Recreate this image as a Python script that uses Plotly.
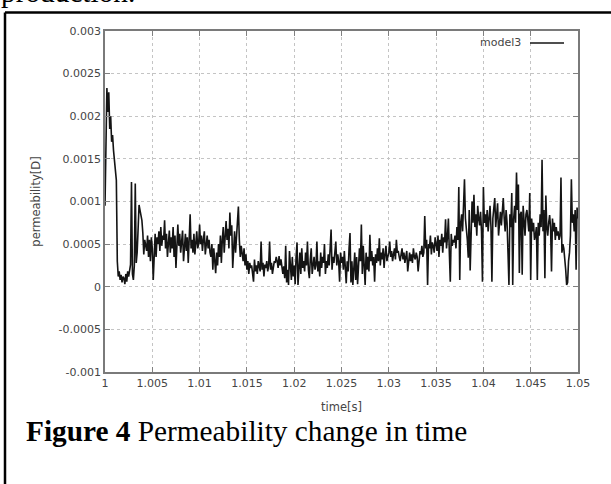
import plotly.graph_objects as go

# ---------------- data (permeability in units of 1e-5 D, sampled every 0.0001 s from t=1.0) ----------------
t_start = 1.0
t_step = 0.0001

perm_early = [
    95, 175, 233, 205, 228, 185, 200, 170, 178, 160,
    150, 140, 125, 30, 12, 18, 8, 14, 5, 12,
    10, 3, 15, 6, 18, 12, 20, 26, 123, 15,
    8, 25, 121, 28, 40, 65, 96, 90, 84, 78,
    63, 38, 55, 48, 42, 60, 35, 55, 30, 58,
    45, 8, 40, 62, 35, 58, 50, 65, 42, 70,
    48, 60, 55, 78, 45, 62, 35, 55, 66, 40,
    58, 45, 70, 35, 60, 22, 50, 73, 48, 62,
    40, 55, 66, 30, 50, 62, 42, 58, 28, 60,
    85, 45, 55, 40, 62, 38, 58, 65, 45, 50,
    73, 50, 60, 42, 55, 65, 38, 52, 60, 45,
    55, 40, 35, 50, 20, 45, 30, 16, 40, 25,
    50, 35, 60, 28, 55, 70, 40, 62, 77, 55,
    68, 45, 87, 60, 72, 22, 50, 65, 40, 58,
    70, 94, 55, 35, 48, 40, 30, 45, 25, 38,
]
perm_mid = [
    20, 30, 15, 28, 22, 25, 10, 6, 32, 18,
    25, 15, 30, 22, 18, 53, 20, 28, 12, 26,
    22, 30, 18, 25, 53, 20, 28, 15, 25, 30,
    28, 35, 30, 22, 36, 25, 32, 20, 15, 24,
    10, 48, 5, 20, 2, 42, 18, 8, 35, 12,
    25, 3, 35, 52, 2, 30, 40, 15, 45, 22,
    30, 18, 40, 25, 53, 20, 10, 32, 45, 15,
    28, 35, 20, 25, 53, 18, 30, 12, 40, 22,
    35, 28, 50, 15, 30, 22, 38, 25, 45, 67,
    20, 35, 28, 45, 53, 25, 38, 30, 6, 40,
    28, 35, 20, 42, 25, 4, 30, 18, 45, 63,
    5, 30, 2, 25, 40, 8, 35, 3, 22, 45,
    30, 73, 15, 48, 25, 2, 40, 20, 35, 18,
    61, 30, 42, 25, 35, 6, 38, 28, 45, 30,
    57, 25, 40, 32, 45, 22, 38, 48, 30, 35,
]
perm_late = [
    40, 53, 35, 42, 30, 38, 45, 32, 55, 40,
    42, 35, 30, 38, 45, 32, 40, 28, 36, 42,
    18, 35, 40, 30, 38, 28, 45, 35, 32, 40,
    35, 18, 30, 42, 38, 48, 35, 40, 83, 45,
    55, 2, 50, 45, 60, 38, 52, 48, 40, 58,
    50, 42, 60, 35, 55, 48, 62, 40, 58, 52,
    79, 45, 58, 80, 40, 6, 62, 48, 55, 52,
    60, 45, 70, 55, 117, 8, 75, 85, 65, 90,
    126, 80, 70, 55, 34, 90, 19, 85, 100, 75,
    108, 70, 85, 60, 95, 80, 72, 88, 65, 6,
    117, 75, 85, 70, 90, 65, 80, 95, 70, 6,
    80, 90, 104, 70, 85, 98, 60, 75, 88, 72,
    95, 104, 80, 65, 90, 75, 40, 2, 85, 70,
    110, 2, 80, 95, 75, 134, 90, 120, 16, 85,
    88, 14, 95, 70, 60, 85, 90, 78, 65, 110,
    8, 80, 65, 75, 55, 60, 70, 8, 75, 60,
    85, 70, 149, 65, 90, 10, 107, 70, 60, 75,
    84, 70, 18, 80, 65, 75, 55, 70, 60, 65,
    55, 60, 128, 40, 50, 45, 35, 20, 2, 5,
    30, 40, 60, 126, 75, 85, 65, 90, 20, 93,
    80,
]

x_tick_vals = [1.0, 1.005, 1.01, 1.015, 1.02, 1.025, 1.03, 1.035, 1.04, 1.045, 1.05]
x_tick_text = ["1", "1.005", "1.01", "1.015", "1.02", "1.025", "1.03", "1.035", "1.04", "1.045", "1.05"]
y_tick_vals = [-0.001, -0.0005, 0.0, 0.0005, 0.001, 0.0015, 0.002, 0.0025, 0.003]
y_tick_text = ["-0.001", "-0.0005", "0", "0.0005", "0.001", "0.0015", "0.002", "0.0025", "0.003"]

series_name = "model3"
x_title = "time[s]"
y_title = "permeability[D]"
caption_bold = "Figure 4"
caption_text = "Permeability change in time"
page_text_above = "production."

perm_units = perm_early + perm_mid + perm_late
perm = [v * 1e-5 for v in perm_units]
time_s = [round(t_start + i * t_step, 4) for i in range(len(perm))]

# ---------------- figure ----------------
W, H = 611, 484
L, R, T, B = 105, 33, 31, 112
pw, ph = W - L - R, H - T - B


def px(xp):
    return (xp - L) / pw


def py(yp):
    return (H - B - yp) / ph


fig = go.Figure()
fig.add_trace(go.Scatter(
    x=time_s, y=perm, mode="lines", name=series_name,
    line=dict(color="#141414", width=1.6), showlegend=False,
))

tick_font = dict(family="DejaVu Sans", size=11, color="#454545")
axis_common = dict(
    ticks="inside", ticklen=5, tickcolor="#808080", tickwidth=1,
    showline=True, linecolor="#7a7a7a", linewidth=1.6, mirror="ticks",
    showgrid=True, gridcolor="#c4c4c4", griddash="dot", gridwidth=1,
    zeroline=False, tickfont=tick_font,
)

fig.update_xaxes(range=[1.0, 1.05], tickmode="array", tickvals=x_tick_vals, ticktext=x_tick_text,
                 title=dict(text=x_title, font=dict(family="DejaVu Sans", size=11.5, color="#454545"), standoff=14),
                 **axis_common)
fig.update_yaxes(range=[-0.001, 0.003], tickmode="array", tickvals=y_tick_vals, ticktext=y_tick_text,
                 title=dict(text=y_title, font=dict(family="DejaVu Sans", size=11.5, color="#454545"), standoff=16),
                 **axis_common)

annotations = [
    dict(text=series_name, xref="paper", yref="paper", x=px(523), y=py(43),
         xanchor="right", yanchor="middle", showarrow=False,
         font=dict(family="DejaVu Sans", size=11, color="#454545")),
    dict(text="<b>" + caption_bold + "</b> " + caption_text, xref="paper", yref="paper",
         x=px(24), y=py(430.5), xanchor="left", yanchor="middle", showarrow=False,
         font=dict(family="Liberation Serif", size=29.3, color="black")),
    dict(text=page_text_above, xref="paper", yref="paper",
         x=px(-1), y=py(-8), xanchor="left", yanchor="middle", showarrow=False,
         font=dict(family="Liberation Serif", size=29.3, color="black")),
]

shapes = [
    # legend sample line
    dict(type="line", xref="paper", yref="paper", x0=px(530), x1=px(564), y0=py(43), y1=py(43),
         line=dict(color="#141414", width=1.3)),
    # page frame (top and left edges)
    dict(type="line", xref="paper", yref="paper", x0=px(5), x1=px(640), y0=py(12.5), y1=py(12.5),
         line=dict(color="black", width=2.5)),
    dict(type="line", xref="paper", yref="paper", x0=px(5), x1=px(5), y0=py(12.5), y1=py(520),
         line=dict(color="black", width=2.5)),
]

fig.update_layout(
    width=W, height=H, margin=dict(l=L, r=R, t=T, b=B, pad=0),
    paper_bgcolor="white", plot_bgcolor="white",
    annotations=annotations, shapes=shapes, showlegend=False,
)

fig.write_html("out.html", config={"displayModeBar": False},
               post_script="document.body.style.margin='0';document.body.style.overflow='hidden';")
